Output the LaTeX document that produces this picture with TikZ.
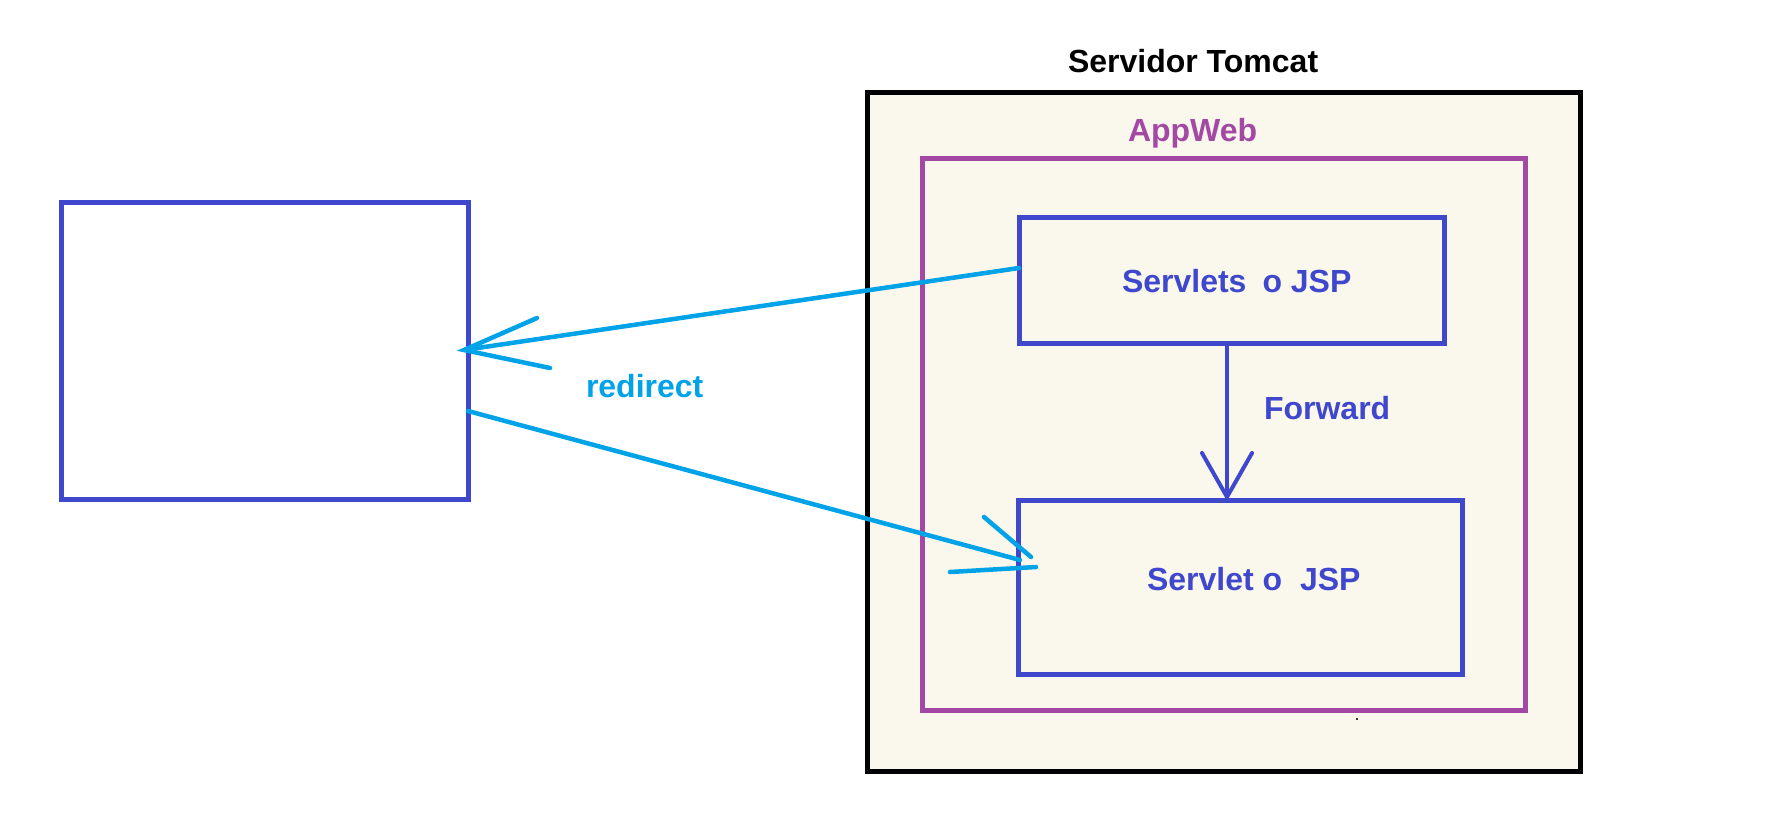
\documentclass[tikz,border=0pt]{standalone}
\usepackage{fontspec}
\setmainfont{Liberation Sans}
\definecolor{pblue}{HTML}{3F48CC}
\definecolor{pcyan}{HTML}{00A2E8}
\definecolor{ppurple}{HTML}{A349A4}
\definecolor{pcream}{HTML}{FAF8ED}
\tikzset{
  box/.style={draw, line width=5pt, inner sep=0pt, outer sep=0pt},
  lbl/.style={inner sep=0pt, outer sep=0pt, anchor=base west, font=\fontsize{32}{38}\selectfont\bfseries},
  cyanline/.style={draw=pcyan, line width=4.5pt, line cap=round},
  blueline/.style={draw=pblue, line width=4pt, line cap=round},
}
\begin{document}
\begin{tikzpicture}[x=1pt,y=-1pt]
\useasboundingbox (0,0) rectangle (1787,832);
\fill[white] (0,0) rectangle (1787,832);
% boxes
\node[box, draw=pblue, fill=white, minimum width=406.6pt, minimum height=296.5pt] (client) at (265,350.75) {};
\node[box, draw=black, fill=pcream, minimum width=713.1pt, minimum height=678.5pt] (tomcat) at (1223.95,432.25) {};
\node[box, draw=ppurple, fill=pcream, minimum width=602.6pt, minimum height=552.5pt] (appweb) at (1224.2,434.25) {};
\node[box, draw=pblue, fill=pcream, minimum width=425.3pt, minimum height=125.8pt] (servlets) at (1231.65,280.4) {};
\node[box, draw=pblue, fill=pcream, minimum width=443.8pt, minimum height=174.5pt] (servlet) at (1240.5,587.25) {};
% labels
\node[lbl, text=black] (tomcatlbl) at (1068,73) {Servidor Tomcat};
\node[lbl, text=ppurple] (appweblbl) at (1128,142) {AppWeb};
\node[lbl, text=pblue] (servletslbl) at (1122,292) {Servlets\hspace{0.5em}o JSP};
\node[lbl, text=pblue] (fwdlbl) at (1264,419) {Forward};
\node[lbl, text=pblue] (servletlbl) at (1147,590) {Servlet o\hspace{0.56em}JSP};
\node[lbl, text=pcyan] (redirlbl) at (586,397) {redirect};
% connector points
\coordinate (r1s) at (1019,268);
\coordinate (r1t) at (464,350);
\coordinate (r1a) at (537,318);
\coordinate (r1b) at (550,368);
\coordinate (r2s) at (468,411);
\coordinate (r2t) at (1020,560);
\coordinate (r2a1) at (984,517);
\coordinate (r2a2) at (1031,557);
\coordinate (r2b1) at (950,572);
\coordinate (r2b2) at (1036,567);
\coordinate (fs) at (1227,343);
\coordinate (ft) at (1227,500);
\coordinate (fa) at (1202,453);
\coordinate (fb) at (1252,453);
\coordinate (ftip) at (1227,497);
% redirect connectors
\draw[cyanline] (r1s) -- (r1t);
\draw[cyanline] (r1a) -- (r1t) -- (r1b);
\draw[cyanline] (r2s) -- (r2t);
\draw[cyanline] (r2a1) -- (r2a2);
\draw[cyanline] (r2b1) -- (r2b2);
% forward connector
\draw[blueline, line cap=butt] (fs) -- (ft);
\draw[blueline] (fa) -- (ftip) -- (fb);
% stray dot
\fill[black!80] (1356,718) rectangle (1358,720);
\end{tikzpicture}
\end{document}
